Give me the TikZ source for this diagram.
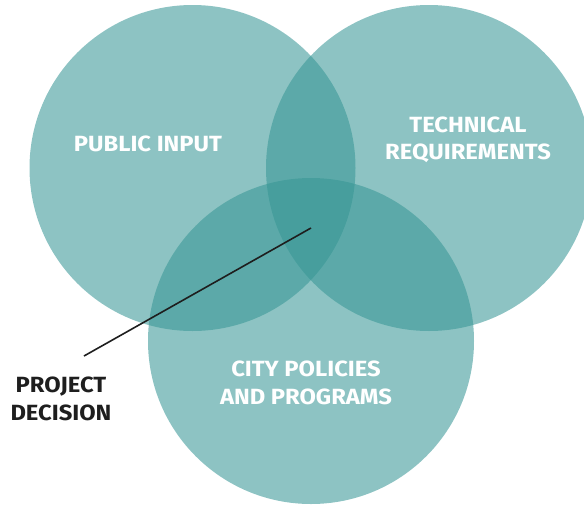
\documentclass[tikz,border=0pt]{standalone}
\usepackage{fontspec}
\setmainfont{Fira Sans}
\newfontfamily\vennfont[FakeStretch=1.08]{Fira Sans}
\usepackage{tikz}
\usetikzlibrary{positioning}
\definecolor{vennteal}{RGB}{55,150,149}
\definecolor{labelink}{RGB}{30,30,30}
\tikzset{
  venn/.style={circle, fill=vennteal, fill opacity=0.57, minimum size=326pt, inner sep=0pt},
  vennlabel/.style={text=white, align=center, font={\vennfont\fontsize{22}{27.5}\selectfont\bfseries}},
  outlabel/.style={text=labelink, align=center, font={\vennfont\fontsize{22}{27.5}\selectfont\bfseries}}
}

\begin{document}
\begin{tikzpicture}[x=1pt, y=-1pt]
    \useasboundingbox (0,0) rectangle (584,504);
    \clip (0,0) rectangle (584,504);

    % Circles
    \node[venn] (public) at (192.5,168) {};
    \node[venn] (technical) at (429,168) {};
    \node[venn] (city) at (311,341) {};

    % Labels
    \node[vennlabel] (publbl) at (148,144) {PUBLIC INPUT};
    \node[vennlabel] (techlbl) at (468,140) {TECHNICAL\\REQUIREMENTS};
    \node[vennlabel] (citylbl) at (306,383) {CITY POLICIES\\AND PROGRAMS};

    % Decision pointer
    \node[outlabel] (decision) at (61,399) {PROJECT\\DECISION};
    \coordinate (tail) at (84,356);
    \coordinate (core) at (311,228);
    \draw[line width=1.6pt, labelink] (tail) -- (core);
\end{tikzpicture}
\end{document}
